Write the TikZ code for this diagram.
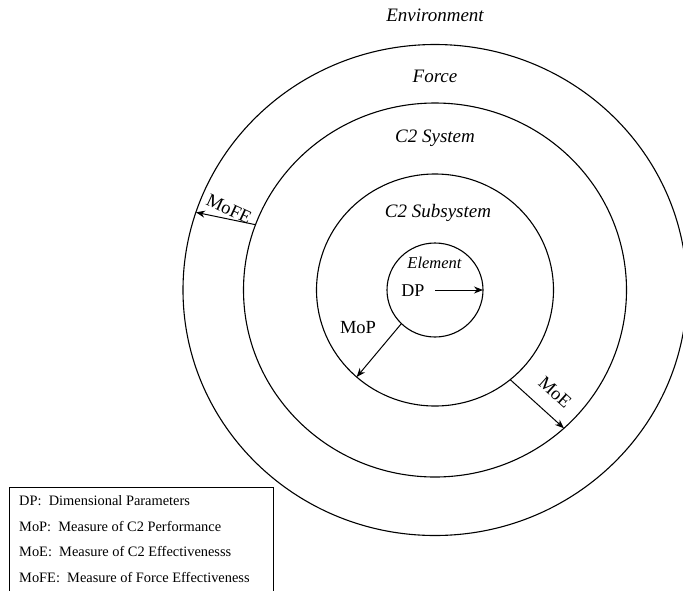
\documentclass[tikz,border=0pt]{standalone}
\usepackage{fontspec}
\setmainfont{Liberation Serif}
\usetikzlibrary{shapes.geometric,arrows.meta,calc}

\begin{document}
\begin{tikzpicture}[x=1pt,y=-1pt,
  ring/.style={draw, ellipse, inner sep=0pt, outer sep=0pt, line width=1.1pt},
  zone/.style={font=\fontsize{19}{21}\selectfont\itshape, inner sep=0pt},
  measure/.style={-{Stealth[length=9pt,width=7pt]}, line width=1pt},
  mlabel/.style={font=\fontsize{18.5}{20}\selectfont, inner sep=0pt},
  keyline/.style={anchor=west, inner sep=0pt, font=\fontsize{14.4}{16}\selectfont}]
\useasboundingbox (0,0) rectangle (683,590);
\clip (0,0) rectangle (683,590);

% concentric layers
\coordinate (C) at (435,290);
\node[ring, minimum width=504pt, minimum height=491pt] (env)  at (C) {};
\node[ring, minimum width=383pt, minimum height=374pt] (sys)  at (C) {};
\node[ring, minimum width=237pt, minimum height=232pt] (sub)  at (C) {};
\node[ring, minimum width=96pt,  minimum height=94pt]  (elem) at (C) {};

% layer names
\node[zone] (envname) at (435,15)  {Environment};
\node[zone] (forcename) at (435,76) {Force};
\node[zone] (sysname) at (435,138) {C2 System};
\node[zone] (subname) at (438,213) {C2 Subsystem};
\node[zone, font=\fontsize{16.5}{18}\selectfont\itshape] (elemname) at (434.5,263) {Element};

% measures between the layers
\node[mlabel, font=\fontsize{18}{20}\selectfont] (dp) at (413,291) {DP};
\draw[measure] (C) -- (elem.east);

\node[mlabel] (mop) at (358,328) {MoP};
\draw[measure] (elem.225) -- (sub.228);

\node[mlabel, rotate=-42] (moe) at (555,392) {MoE};
\draw[measure] (sub.-50) -- (sys.-47);

\node[mlabel, rotate=-25] (mofe) at (229,209) {MoFE};
\draw[measure] (sys.160) -- (env.162);

% legend
\node[draw, line width=0.8pt, anchor=north west, minimum width=264pt,
      minimum height=120pt, inner sep=0pt] (legend) at (9,487) {};
\node[keyline] (k1) at (19,501) {DP:\ \ Dimensional Parameters};
\node[keyline] (k2) at (19,527) {MoP:\ \ Measure of C2 Performance};
\node[keyline] (k3) at (19,552) {MoE:\ \ Measure of C2 Effectivenesss};
\node[keyline] (k4) at (19,578) {MoFE:\ \ Measure of Force Effectiveness};
\end{tikzpicture}
\end{document}
